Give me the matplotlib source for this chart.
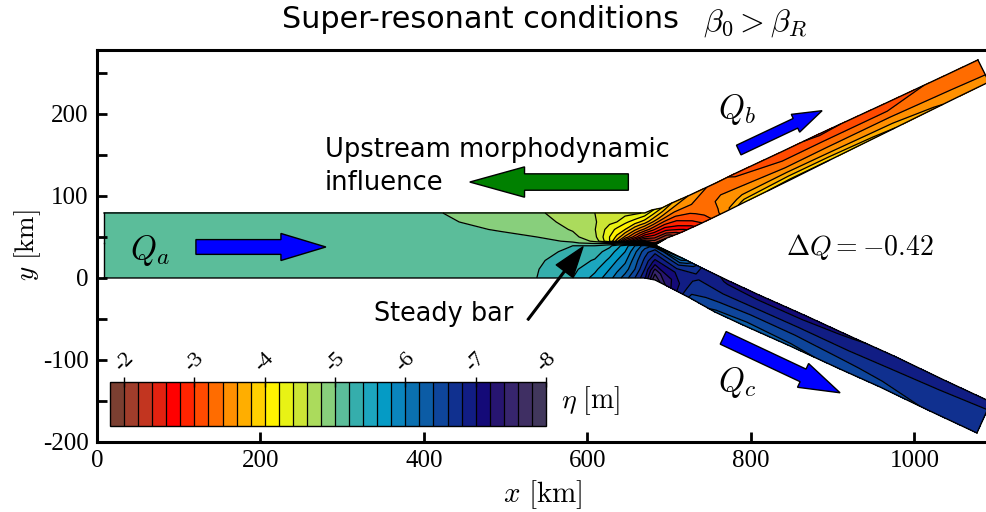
import numpy as np
import matplotlib
matplotlib.use('Agg')
import matplotlib.pyplot as plt

plt.rcParams['mathtext.fontset'] = 'cm'
plt.rcParams['axes.unicode_minus'] = False

# colour of each 0.2 m band, from -1.8 (left of the colorbar) to -8
band_colors = ['#7b3f31', '#a03d2b', '#c23520', '#e32210', '#ff0000', '#ff2400', '#ff4a00', '#ff6c00',
               '#ff9000', '#ffae00', '#ffd000', '#fff200', '#e8f215', '#cce535', '#abdb5c', '#88cf7c',
               '#5bbd9a', '#35aeac', '#1ca6bf', '#059bc5', '#0a85bd', '#0a70b0', '#0c5ca5', '#0e459b',
               '#10308f', '#111d84', '#140a78', '#271570', '#37256d', '#3f2f63', '#41375c']
levels = np.round(np.arange(-8, -1.7, 0.2), 1)
cbar_ticks = [-2, -3, -4, -5, -6, -7, -8]

# cross section positions, 0 = one bank, 1 = other bank
n_up = np.array([0, .06, .2, .45, .7, 1])
n_lo = np.array([0, .25, .5, .75, .92, 1])

# upper domain: upstream channel above the centre line, then branch b
up_bot_x = [8.6, 423, 493, 538, 582, 609, 627, 636, 646, 658, 664, 670, 682.6, 697.2, 713.1, 737.6, 770.6, 792.7, 847.7, 896.6, 976.1, 1049.5, 1091.1]
up_bot_y = [42.7, 42.7, 42.7, 42.7, 42.7, 42.7, 42.7, 42.7, 42.7, 42.7, 42.7, 42.7, 40.2, 48.8, 54.9, 65.9, 81.7, 92.7, 119.5, 143.9, 182.9, 218.9, 239]
up_top_x = [8.6, 423, 493, 538, 582, 609, 627, 636, 646, 658, 664, 670, 679, 691, 703.3, 722.9, 757.2, 779.2, 834.2, 883.2, 962.7, 1036, 1077.6]
up_top_y = [79.3, 79.3, 79.3, 79.3, 79.3, 79.3, 79.3, 79.3, 79.3, 79.3, 79.3, 79.3, 83, 85.4, 91.5, 100, 115.9, 126.8, 152.4, 175.6, 212.2, 246.3, 265.9]
eta_up = [
    [-5.10, -5.10, -5.10, -5.10, -5.10, -5.10],
    [-5.09, -5.08, -5.06, -5.04, -5.02, -5.00],
    [-5.08, -5.07, -5.03, -4.99, -4.95, -4.90],
    [-5.06, -5.04, -5.00, -4.94, -4.87, -4.83],
    [-5.02, -4.98, -4.86, -4.78, -4.74, -4.70],
    [-4.95, -4.75, -4.65, -4.61, -4.62, -4.60],
    [-4.90, -4.20, -4.20, -4.30, -4.45, -4.50],
    [-4.95, -3.70, -3.95, -4.15, -4.40, -4.50],
    [-5.00, -3.00, -3.55, -4.00, -4.25, -4.48],
    [-5.05, -2.50, -3.10, -3.65, -4.10, -4.45],
    [-5.08, -2.20, -2.85, -3.50, -4.00, -4.42],
    [-5.10, -2.05, -2.60, -3.35, -3.90, -4.35],
    [-5.10, -2.00, -2.40, -3.05, -3.70, -4.25],
    [-2.00, -2.10, -2.50, -3.00, -3.50, -4.00],
    [-2.40, -2.50, -2.75, -3.05, -3.40, -3.80],
    [-2.95, -3.00, -3.10, -3.25, -3.40, -3.60],
    [-3.55, -3.55, -3.50, -3.45, -3.35, -3.30],
    [-3.95, -3.85, -3.65, -3.45, -3.30, -3.15],
    [-4.05, -3.95, -3.70, -3.40, -3.20, -3.08],
    [-4.00, -3.90, -3.65, -3.40, -3.20, -2.95],
    [-3.80, -3.75, -3.60, -3.40, -3.20, -3.10],
    [-3.55, -3.52, -3.45, -3.38, -3.30, -3.25],
    [-3.45, -3.44, -3.42, -3.38, -3.34, -3.30],
]

# lower domain: upstream channel below the centre line, then branch c
lo_bot_x = [8.6, 423, 493, 538, 582, 609, 627, 636, 646, 658, 664, 670, 682.6, 698.5, 725.4, 755.9, 792.7, 847.7, 908.8, 957.8, 1018.9, 1076.4]
lo_bot_y = [0, 0, 0, 0, 0, 0, 0, 0, 0, 0, 0, 0, -2.4, -10.4, -24.4, -41.5, -58.5, -82.9, -111, -132.9, -162.2, -189]
lo_top_x = [8.6, 423, 493, 538, 582, 609, 627, 636, 646, 658, 664, 670, 682.6, 715.6, 742.5, 773.1, 809.8, 864.8, 926, 974.9, 1036, 1093.6]
lo_top_y = [42.7, 42.7, 42.7, 42.7, 42.7, 42.7, 42.7, 42.7, 42.7, 42.7, 42.7, 42.7, 40.2, 24.4, 11, -3.7, -20.7, -45.1, -73.2, -95.1, -124.4, -151.2]
eta_lo = [
    [-5.10, -5.10, -5.10, -5.10, -5.10, -5.10],
    [-5.11, -5.11, -5.10, -5.10, -5.10, -5.09],
    [-5.12, -5.12, -5.12, -5.11, -5.10, -5.08],
    [-5.20, -5.19, -5.17, -5.14, -5.12, -5.06],
    [-5.40, -5.35, -5.30, -5.24, -5.20, -5.02],
    [-5.67, -5.55, -5.42, -5.30, -5.20, -4.95],
    [-5.93, -5.80, -5.65, -5.50, -5.35, -4.90],
    [-6.10, -5.95, -5.80, -5.65, -5.52, -4.95],
    [-6.30, -6.10, -5.95, -5.80, -5.70, -5.00],
    [-6.60, -6.40, -6.30, -6.15, -6.00, -5.05],
    [-6.78, -6.60, -6.47, -6.33, -6.15, -5.08],
    [-6.95, -6.80, -6.65, -6.50, -6.30, -5.10],
    [-7.80, -7.50, -7.10, -6.80, -6.50, -5.10],
    [-7.30, -7.20, -7.00, -6.60, -6.20, -6.00],
    [-6.55, -6.65, -6.75, -6.85, -6.90, -6.90],
    [-6.35, -6.55, -6.75, -6.90, -7.02, -7.05],
    [-6.30, -6.50, -6.72, -6.92, -7.05, -7.10],
    [-6.35, -6.52, -6.72, -6.92, -7.05, -7.10],
    [-6.45, -6.58, -6.74, -6.90, -6.98, -7.02],
    [-6.52, -6.63, -6.75, -6.86, -6.93, -6.95],
    [-6.62, -6.68, -6.75, -6.82, -6.87, -6.90],
    [-6.68, -6.72, -6.76, -6.80, -6.83, -6.85],
]
tip = 12  # station of the junction tip


def mesh(bx, by, tx, ty, n):
    bx, by, tx, ty = map(np.array, (bx, by, tx, ty))
    X = bx[:, None] + (tx - bx)[:, None] * n[None, :]
    Y = by[:, None] + (ty - by)[:, None] * n[None, :]
    return X, Y


fig = plt.figure(figsize=(9.86, 5.12), dpi=100)
ax = fig.add_axes([97/986, 70/512, 889/986, 392/512])
ax.set_xlim(0, 1087.5)
ax.set_ylim(-200, 278)

for bx, by, tx, ty, n, eta in [(up_bot_x, up_bot_y, up_top_x, up_top_y, n_up, eta_up),
                               (lo_bot_x, lo_bot_y, lo_top_x, lo_top_y, n_lo, eta_lo)]:
    X, Y = mesh(bx, by, tx, ty, n)
    Z = np.array(eta)
    cf = ax.contourf(X, Y, Z, levels=levels, colors=band_colors[::-1])
    ax.contour(X, Y, Z, levels=levels, colors='k', linewidths=0.9, linestyles='solid')
    # channel outline, the centre line only past the junction
    if n is n_up:
        ax.plot(tx, ty, 'k', lw=1)
        ax.plot(bx[tip:], by[tip:], 'k', lw=1)
    else:
        ax.plot(bx, by, 'k', lw=1)
        ax.plot(tx[tip:], ty[tip:], 'k', lw=1)
    ax.plot(X[0, :], Y[0, :], 'k', lw=1)
    ax.plot(X[-1, :], Y[-1, :], 'k', lw=1)

# flow arrows
ax.arrow(121, 37.8, 159, 0, width=18, head_width=33, head_length=55, length_includes_head=True,
         fc='blue', ec='k', lw=1)
ax.arrow(650, 117, -194, 0, width=20, head_width=37, head_length=67, length_includes_head=True,
         fc='green', ec='k', lw=1)
ax.arrow(785, 156, 102, 48, width=13, head_width=24, head_length=36, length_includes_head=True,
         fc='blue', ec='k', lw=1)
ax.arrow(766, -73, 143, -67, width=17, head_width=32, head_length=50, length_includes_head=True,
         fc='blue', ec='k', lw=1)

ax.annotate('', xy=(594.5, 38), xytext=(527, -51),
            arrowprops=dict(facecolor='k', edgecolor='k', width=1.2, headwidth=15, headlength=22, shrink=0))

ax.text(65, 34, r'$Q_a$', fontsize=24, ha='center', va='center')
ax.text(783, 206, r'$Q_b$', fontsize=24, ha='center', va='center')
ax.text(783, -128, r'$Q_c$', fontsize=24, ha='center', va='center')
ax.text(933, 38, r'$\Delta Q=-0.42$', fontsize=20, ha='center', va='center')
ax.text(279, 136, 'Upstream morphodynamic\ninfluence', fontsize=18.5, ha='left', va='center', linespacing=1.31)
ax.text(339, -44, 'Steady bar', fontsize=18.4, ha='left', va='center')
ax.text(604, -150, r'$\eta\ [\mathrm{m}]$', fontsize=20, ha='center', va='center')

ax.set_xticks([0, 200, 400, 600, 800, 1000])
ax.set_yticks(np.arange(-200, 201, 100))
ax.set_yticks(np.arange(-200, 251, 50), minor=True)
ax.tick_params(which='both', direction='in', width=2, labelsize=18, pad=6, length=7)
for lab in ax.get_xticklabels() + ax.get_yticklabels():
    lab.set_family('Liberation Serif')
for s in ['left', 'bottom', 'top']:
    ax.spines[s].set_linewidth(2.2)
ax.spines['right'].set_visible(False)

fig.text(543/986, 1 - 495/512, r'$x\ [\mathrm{km}]$', fontsize=21, ha='center', va='center')
fig.text(28/986, 1 - 245/512, r'$y\ [\mathrm{km}]$', fontsize=19.5, ha='center', va='center', rotation=90)
fig.text(282/986, 1 - 20/512, 'Super-resonant conditions', fontsize=21.8, ha='left', va='center')
fig.text(703/986, 1 - 23/512, r'$\beta_0>\beta_R$', fontsize=23, ha='left', va='center')

cax = fig.add_axes([110/986, 1 - 426/512, 436/986, 44/512])
cb = fig.colorbar(cf, cax=cax, orientation='horizontal')
cb.outline.set_linewidth(1)
cax.invert_xaxis()
cb.set_ticks(cbar_ticks)
cax.vlines(levels[1:-1], 0, 1, colors='k', lw=0.9, transform=cax.get_xaxis_transform(), zorder=5)
cax.xaxis.set_ticks_position('top')
cax.set_xticklabels([str(t) for t in cbar_ticks], rotation=45, family='Liberation Serif', fontsize=16)
cax.tick_params(axis='x', direction='inout', length=7, width=1, pad=1)

fig.savefig('out.png', dpi=100)
